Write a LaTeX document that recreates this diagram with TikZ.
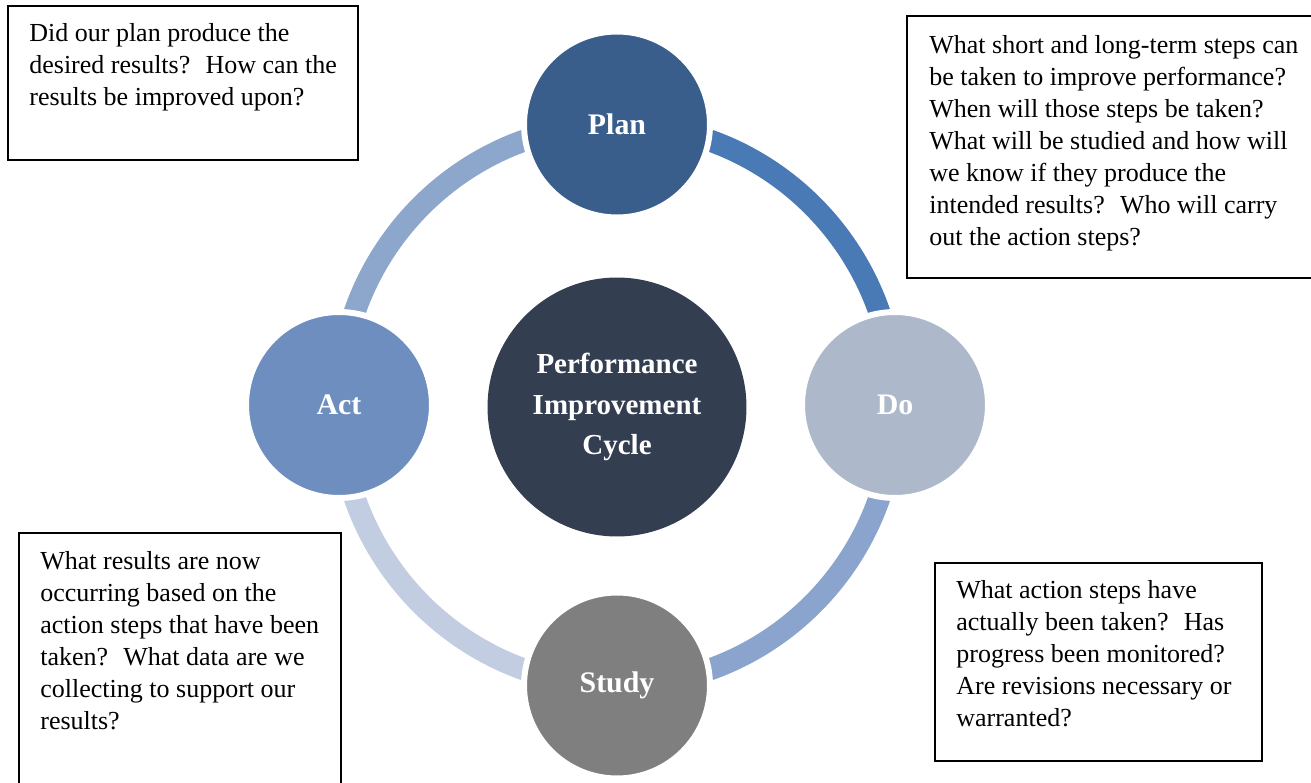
\documentclass[tikz,border=0pt]{standalone}
\usepackage{fontspec}
\setmainfont{Liberation Serif}
\usetikzlibrary{positioning,backgrounds}

\definecolor{hubnavy}{HTML}{333E50}
\definecolor{planblue}{HTML}{3A5E8C}
\definecolor{dogrey}{HTML}{ADB9CB}
\definecolor{studygrey}{HTML}{7F7F7F}
\definecolor{actblue}{HTML}{6E8EC0}
\definecolor{arcpd}{HTML}{4A7AB5}
\definecolor{arcds}{HTML}{8AA4CD}
\definecolor{arcsa}{HTML}{C3CDE2}
\definecolor{arcap}{HTML}{8CA6CC}

\tikzset{
  stage/.style={circle, fill=#1, draw=white, line width=3.4pt, minimum size=3.72cm,
    inner sep=0pt, text=white, font=\bfseries\fontsize{17}{20}\selectfont},
  hub/.style={circle, fill=hubnavy, minimum size=5.18cm, inner sep=0pt, text=white,
    align=center, font=\bfseries\fontsize{16.5}{23.2}\selectfont},
  ring/.style={draw=#1, line width=12.5pt},
  frame/.style={draw=black, line width=1.1pt, anchor=north west, inner sep=0pt, outer sep=0pt},
  note/.style={anchor=north west, inner sep=0pt, align=left, font=\fontsize{14.8}{18.25}\selectfont},
}

\begin{document}
\begin{tikzpicture}[x=0.02cm, y=0.02cm]
  \path[use as bounding box] (0,0) rectangle (1311,-783);

  % the cycle
  \node[hub]            (cycle) at (617,-407)   {Performance\\Improvement\\Cycle};
  \node[stage=planblue]  (plan)  at (617,-124.5) {Plan};
  \node[stage=dogrey]    (do)    at (895,-405)   {Do};
  \node[stage=studygrey] (study) at (617,-685.5) {Study};
  \node[stage=actblue]   (act)   at (339,-405)   {Act};

  \begin{scope}[on background layer]
    \fill[white] (0,0) rectangle (1311,-783);
    \draw[ring=arcpd] (plan.center)  arc[start angle=90,  end angle=0,    x radius=5.56cm, y radius=5.61cm];
    \draw[ring=arcds] (do.center)    arc[start angle=0,   end angle=-90,  x radius=5.56cm, y radius=5.61cm];
    \draw[ring=arcsa] (study.center) arc[start angle=-90, end angle=-180, x radius=5.56cm, y radius=5.61cm];
    \draw[ring=arcap] (act.center)   arc[start angle=180, end angle=90,   x radius=5.56cm, y radius=5.61cm];
  \end{scope}

  % question boxes
  \node[frame, minimum width=7cm, minimum height=3.08cm] (actframe) at (8,-6) {};
  \node[note] (acttext) at ([xshift=0.42cm, yshift=-0.34cm]actframe.north west)
    {Did our plan produce the\\desired results?~ How can the\\results be improved upon?};

  \node[frame, minimum width=8.3cm, minimum height=5.24cm] (planframe) at (907,-16) {};
  \node[note] (plantext) at ([xshift=0.44cm, yshift=-0.38cm]planframe.north west)
    {What short and long-term steps can\\be taken to improve performance?\\When will those steps be taken?\\What will be studied and how will\\we know if they produce the\\intended results?~ Who will carry\\out the action steps?};

  \node[frame, minimum width=6.44cm, minimum height=5.1cm] (studyframe) at (19,-533) {};
  \node[note] (studytext) at ([xshift=0.42cm, yshift=-0.36cm]studyframe.north west)
    {What results are now\\occurring based on the\\action steps that have been\\taken?~ What data are we\\collecting to support our\\results?};

  \node[frame, minimum width=6.54cm, minimum height=3.96cm] (doframe) at (935,-563) {};
  \node[note] (dotext) at ([xshift=0.42cm, yshift=-0.34cm]doframe.north west)
    {What action steps have\\actually been taken?~ Has\\progress been monitored?\\Are revisions necessary or\\warranted?};
\end{tikzpicture}
\end{document}
